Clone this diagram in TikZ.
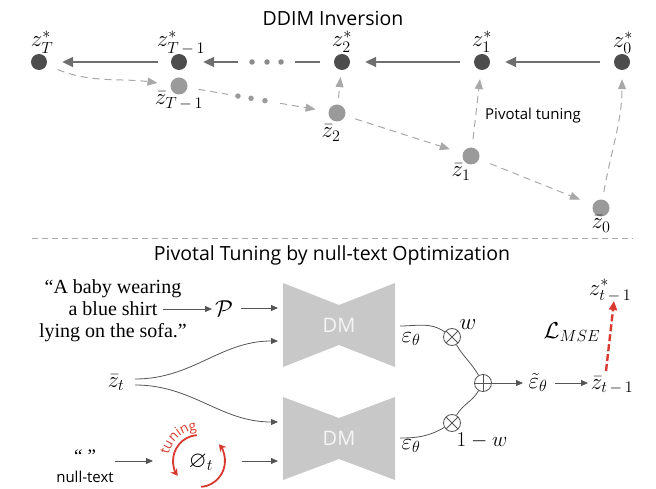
\RequirePackage{fix-cm}
\documentclass[tikz,border=0pt]{standalone}
\usepackage{amsmath,amssymb}
\usepackage{fontspec}
\newfontfamily\gsans{Open Sans}
\newfontfamily\tnr{Liberation Serif}
\usetikzlibrary{arrows.meta,calc,decorations.text}
\definecolor{dkdot}{HTML}{4D4D4D}
\definecolor{ltdot}{HTML}{9A9A9A}
\definecolor{solidc}{HTML}{6E6E6E}
\definecolor{dashc}{HTML}{A8A8A8}
\definecolor{connc}{HTML}{555555}
\definecolor{dmgray}{HTML}{C8C8C8}
\definecolor{tunered}{HTML}{D93A2F}
\newcommand\tunefont{\gsans\fontsize{13.5}{15}\selectfont\color{tunered}}
\tikzset{
  darkdot/.style={circle, fill=dkdot, minimum size=16pt, inner sep=0pt},
  lightdot/.style={circle, fill=ltdot, minimum size=17pt, inner sep=0pt},
  smalldot/.style={circle, fill=#1, minimum size=5.5pt, inner sep=0pt},
  solidln/.style={draw=solidc, line width=1.8pt},
  solidarr/.style={solidln, -{Triangle[length=11pt,width=10pt]}},
  dashln/.style={draw=dashc, line width=1pt, dash pattern=on 7pt off 5pt},
  dasharr/.style={dashln, -{Triangle[length=10pt,width=8pt]}},
  lbl/.style={font=\fontsize{23}{26}\selectfont, inner sep=1pt, anchor=base},
  title/.style={font=\gsans\fontsize{19.5}{22}\selectfont},
  conn/.style={draw=connc, line width=0.8pt},
  carr/.style={conn, -{Triangle[length=7pt,width=6pt]}},
  dmlbl/.style={font=\gsans\fontsize{20}{22}\selectfont, text=white!92!gray},
  opnode/.style={circle, draw=connc, line width=0.8pt, minimum size=17pt, inner sep=0pt},
  otimesnode/.style={opnode, path picture={\draw[connc, line width=0.8pt]
      (path picture bounding box.north west) -- (path picture bounding box.south east)
      (path picture bounding box.north east) -- (path picture bounding box.south west);}},
  oplusnode/.style={opnode, path picture={\draw[connc, line width=0.8pt]
      (path picture bounding box.north) -- (path picture bounding box.south)
      (path picture bounding box.east) -- (path picture bounding box.west);}},
  redarc/.style={draw=tunered, line width=1.8pt, -{Stealth[length=7pt,width=8pt]}},
  redarrow/.style={draw=tunered, line width=2.4pt, dash pattern=on 7pt off 3pt, -{Triangle[length=9pt,width=8pt]}},
}
\begin{document}
\begin{tikzpicture}[x=1pt,y=-1pt]
\useasboundingbox (0,0) rectangle (656,489);
% ---------- top: DDIM inversion ----------
\node[title] (t1) at (333,18) {DDIM Inversion};
\node[darkdot] (zT) at (39,62) {};
\node[darkdot] (zT1) at (179,62) {};
\node[darkdot] (z2) at (342,62) {};
\node[darkdot] (z1) at (482,62) {};
\node[darkdot] (z0) at (622,62) {};
\node[lightdot] (zbT) at (179,86) {};
\node[lightdot] (zb2) at (337,113) {};
\node[lightdot] (zb1) at (471,156) {};
\node[lightdot] (zb0) at (601,208) {};
\node[lbl] (lzT) at (42,47) {$z^*_T$};
\node[lbl] (lzT1) at (181,47) {$z^*_{T\,-\,1}$};
\node[lbl] (lz2) at (342,47) {$z^*_2$};
\node[lbl] (lz1) at (482,47) {$z^*_1$};
\node[lbl] (lz0) at (623,48) {$z^*_0$};
\node[lbl] (lzbT) at (179,105) {$\bar z_{T\,-\,1}$};
\node[lbl] (lzb2) at (331,138) {$\bar z_2$};
\node[lbl] (lzb1) at (461,177) {$\bar z_1$};
\node[lbl] (lzb0) at (601,229) {$\bar z_0$};
% solid arrows
\draw[solidarr, shorten <=14pt, shorten >=15pt] (z0) -- (z1);
\draw[solidarr, shorten <=14pt, shorten >=15pt] (z1) -- (z2);
\coordinate (d1) at ($(z2)!0.288!(zT1)$);
\coordinate (d2) at ($(z2)!0.638!(zT1)$);
\draw[solidln, shorten <=14pt] (z2) -- (d1);
\node[smalldot=solidc!80] (sd1) at ($(z2)!0.374!(zT1)$) {};
\node[smalldot=solidc!80] (sd2) at ($(z2)!0.46!(zT1)$) {};
\node[smalldot=solidc!80] (sd3) at ($(z2)!0.552!(zT1)$) {};
\draw[solidarr, shorten >=16pt] (d2) -- (zT1);
\draw[solidarr, shorten <=13pt, shorten >=15pt] (zT1) -- (zT);
% dashed arrows
\draw[dasharr, shorten <=12pt, shorten >=13pt] (zT) to[out=-22,in=172] (zbT);
\coordinate (e1) at ($(zbT)!0.31!(zb2)$);
\coordinate (e2) at ($(zbT)!0.64!(zb2)$);
\draw[dashln, shorten <=11pt] (zbT) -- (e1);
\node[smalldot=ltdot] (ld1) at ($(zbT)!0.373!(zb2)$) {};
\node[smalldot=ltdot] (ld2) at ($(zbT)!0.456!(zb2)$) {};
\node[smalldot=ltdot] (ld3) at ($(zbT)!0.544!(zb2)$) {};
\draw[dasharr, shorten >=13pt] (e2) -- (zb2);
\draw[dasharr, shorten <=10.5pt, shorten >=13.5pt] (zb2) -- (zb1);
\draw[dasharr, shorten <=12pt, shorten >=14pt] (zb1) -- (zb0);
\draw[dasharr, shorten <=6.5pt, shorten >=7pt] (zb2) -- (z2);
\draw[dasharr, shorten <=8.5pt, shorten >=9pt] (zb1) -- (z1);
\draw[dasharr, shorten <=7.5pt, shorten >=9pt] (zb0) to[out=80,in=-90] (z0);
\node[font=\gsans\fontsize{15}{17}\selectfont] (pvt) at (533,116) {Pivotal tuning};
% separator
\coordinate (s1) at (32,238);
\coordinate (s2) at (633,238);
\draw[draw=dashc, line width=0.9pt, dash pattern=on 6pt off 4pt] (s1) -- (s2);
% ---------- bottom: pivotal tuning ----------
\node[title] (t2) at (332,255) {Pivotal Tuning by null-text Optimization};
% DM blocks
\coordinate (dmA) at (339,325);
\coordinate (dmB) at (339,438);
\fill[dmgray] ($(dmA)+(-56,-42)$) -- ($(dmA)+(0,-20)$) -- ($(dmA)+(56,-42)$) -- ($(dmA)+(56,42)$) -- ($(dmA)+(0,20)$) -- ($(dmA)+(-56,42)$) -- cycle;
\fill[dmgray] ($(dmB)+(-56,-41)$) -- ($(dmB)+(0,-20)$) -- ($(dmB)+(56,-41)$) -- ($(dmB)+(56,42)$) -- ($(dmB)+(0,21)$) -- ($(dmB)+(-56,42)$) -- cycle;
\node[dmlbl] (dmAl) at (dmA) {DM};
\node[dmlbl] (dmBl) at (dmB) {DM};
% prompt
\node[font=\tnr\fontsize{20}{22}\selectfont, align=center, inner sep=0pt] (pr) at (113,311) {“A baby wearing\\a blue shirt\\lying on the sofa.”};
\node[lbl] (P) at (224,316) {$\mathcal{P}$};
\coordinate (sh) at (163,309);
\coordinate (sh2) at (212,309);
\draw[carr] (sh) -- (sh2);
\coordinate (inA1) at (278,308);
\coordinate (pe) at (241,308);
\draw[carr] (pe) -- (inA1);
\node[lbl] (zbt) at (116,387) {$\bar z_t$};
\coordinate (zs1) at (135,379);
\coordinate (zs2) at (135,385);
\coordinate (inA2) at (278,341);
\coordinate (inB1) at (278,422);
\draw[carr] (zs1) to[out=0,in=180] (inA2);
\draw[carr] (zs2) to[out=0,in=180] (inB1);
% null text
\node[font=\tnr\fontsize{19}{20}\selectfont, inner sep=0pt] (q) at (85,456) {“\hspace{5pt}”};
\node[font=\gsans\fontsize{15}{17}\selectfont, inner sep=0pt] (nt) at (85,477) {null-text};
\coordinate (phic) at (199,461);
\node[lbl] (phi) at (201,467) {$\varnothing_t$};
\coordinate (qa) at (115,461);
\coordinate (qb) at (153,461);
\draw[carr] (qa) -- (qb);
\coordinate (pa) at (242,461);
\coordinate (inB2) at (278,461);
\draw[carr] (pa) -- (inB2);
\draw[redarc] ($(phic)+(95:26pt)$) arc[start angle=95, end angle=215, radius=26pt];
\draw[redarc] ($(phic)+(275:26pt)$) arc[start angle=275, end angle=400, radius=26pt];
\path[decorate, decoration={text along path, text={|\tunefont|tuning}, text align=center}]
  ($(phic)+(174:31pt)$) arc[start angle=174, end angle=88, radius=31pt];
% combination
\node[otimesnode] (xA) at (452,337) {};
\node[otimesnode] (xB) at (452,423) {};
\node[oplusnode] (pl) at (483,383) {};
\coordinate (oA) at (400,326);
\coordinate (oB) at (400,438);
\draw[conn] (oA) to[out=0,in=145] (xA);
\draw[conn] (oB) to[out=0,in=-150] (xB);
\draw[conn] (xA) to[out=-60,in=120] (pl);
\draw[conn] (xB) to[out=60,in=-120] (pl);
\node[lbl] (epsA) at (411,342) {$\varepsilon_\theta$};
\node[lbl] (epsB) at (411,449) {$\varepsilon_\theta$};
\node[lbl] (wl) at (468,329) {$w$};
\node[lbl, font=\fontsize{21}{24}\selectfont] (omw) at (482,446) {$1-w$};
\node[lbl] (et) at (538,388) {$\tilde\varepsilon_\theta$};
\node[lbl] (ztm) at (612,389) {$\bar z_{t\,-\,1}$};
\coordinate (pe1) at (492,383);
\coordinate (pe2) at (523,383);
\coordinate (ee1) at (555,383);
\coordinate (ee2) at (588,383);
\draw[carr] (pe1) -- (pe2);
\draw[carr] (ee1) -- (ee2);
\node[lbl] (zst) at (610,295) {$z^*_{t\,-\,1}$};
\coordinate (ra) at (606,371);
\coordinate (rb) at (614,301);
\draw[redarrow] (ra) -- (rb);
\node[lbl] (lmse) at (572,338) {$\mathcal{L}_{MSE}$};
\end{tikzpicture}
\end{document}
